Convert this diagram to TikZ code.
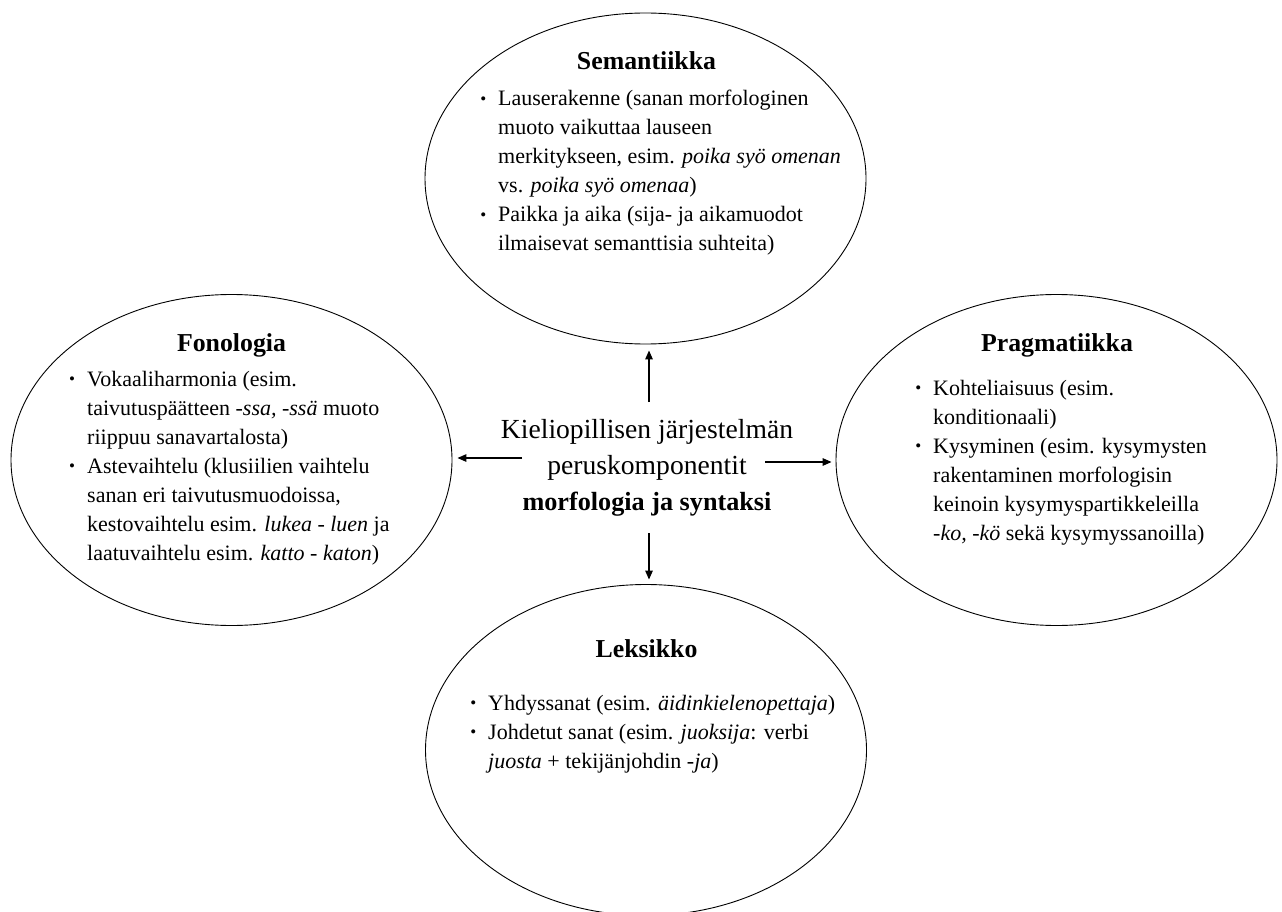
\documentclass[tikz,border=0pt]{standalone}
\usepackage{fontspec}
\setmainfont{Liberation Serif}
\usetikzlibrary{arrows.meta,shapes.geometric}
\newcommand{\bul}{\llap{\raisebox{1.5pt}{\fontsize{17}{17}\selectfont\textbullet}\hspace{12pt}}}
\newcommand{\bodyfont}{\fontsize{22}{29}\selectfont}
\tikzset{
  x=1pt,y=-1pt,
  oval/.style={draw,ellipse,line width=0.9pt,minimum width=441pt,minimum height=331pt,inner sep=0pt},
  head/.style={anchor=base,inner sep=0pt,font=\fontsize{25.8}{30}\selectfont\bfseries},
  listbox/.style={anchor=base west,inner sep=0pt,font=\bodyfont},
  arr/.style={line width=1.4pt,-{Stealth[length=9pt,width=7.5pt,inset=0pt]}}
}
\begin{document}
\begin{tikzpicture}
\useasboundingbox (0,0) rectangle (1282,912);
\clip (0,0) rectangle (1282,912);
% ellipses
\node[oval] (sem) at (645.5,178.5) {};
\node[oval] (fon) at (231.5,460) {};
\node[oval] (pra) at (1056.5,460) {};
\node[oval] (lek) at (646,750) {};
% headings
\node[head] (semh) at (646.5,70) {Semantiikka};
\node[head] (fonh) at (231.5,351) {Fonologia};
\node[head] (prah) at (1057,351) {Pragmatiikka};
\node[head] (lekh) at (646.5,657) {Leksikko};
% lists
\node[listbox] (seml) at (498,106) {\begin{tabular}[t]{@{}l@{}}
\bul Lauserakenne (sanan morfologinen\\
muoto vaikuttaa lauseen\\
merkitykseen, esim. \textit{poika syö omenan}\\
vs. \textit{poika syö omenaa})\\
\bul Paikka ja aika (sija- ja aikamuodot\\
ilmaisevat semanttisia suhteita)
\end{tabular}};
\node[listbox] (fonl) at (87,386) {\begin{tabular}[t]{@{}l@{}}
\bul Vokaaliharmonia (esim.\\
taivutuspäätteen -\textit{ssa, -ssä} muoto\\
riippuu sanavartalosta)\\
\bul Astevaihtelu (klusiilien vaihtelu\\
sanan eri taivutusmuodoissa,\\
kestovaihtelu esim. \textit{lukea} - \textit{luen} ja\\
laatuvaihtelu esim. \textit{katto} - \textit{katon})
\end{tabular}};
\node[listbox] (pral) at (933,395) {\begin{tabular}[t]{@{}l@{}}
\bul Kohteliaisuus (esim.\\
konditionaali)\\
\bul Kysyminen (esim. kysymysten\\
rakentaminen morfologisin\\
keinoin kysymyspartikkeleilla\\
-\textit{ko, -kö} sekä kysymyssanoilla)
\end{tabular}};
\node[listbox] (lekl) at (488,710) {\begin{tabular}[t]{@{}l@{}}
\bul Yhdyssanat (esim. \textit{äidinkielenopettaja})\\
\bul Johdetut sanat (esim. \textit{juoksija}: verbi\\
\textit{juosta} + tekijänjohdin -\textit{ja})
\end{tabular}};
% core
\node[anchor=base,inner sep=0pt,font=\fontsize{27.6}{36}\selectfont] (core) at (647,438) {\begin{tabular}[t]{@{}c@{}}
Kieliopillisen järjestelmän\\
peruskomponentit\\
{\fontsize{26.2}{36}\selectfont\bfseries morfologia ja syntaksi}
\end{tabular}};
% arrows
\coordinate (cU) at (649,402);
\coordinate (cD) at (649,533);
\coordinate (cL) at (522,458);
\coordinate (cR) at (765,462);
\draw[arr,shorten >=6pt] (cU) -- (cU |- sem.south);
\draw[arr,shorten >=4.5pt] (cD) -- (cD |- lek.north);
\draw[arr,shorten >=5pt] (cL) -- (cL -| fon.east);
\draw[arr,shorten >=4pt] (cR) -- (cR -| pra.west);
\end{tikzpicture}
\end{document}
